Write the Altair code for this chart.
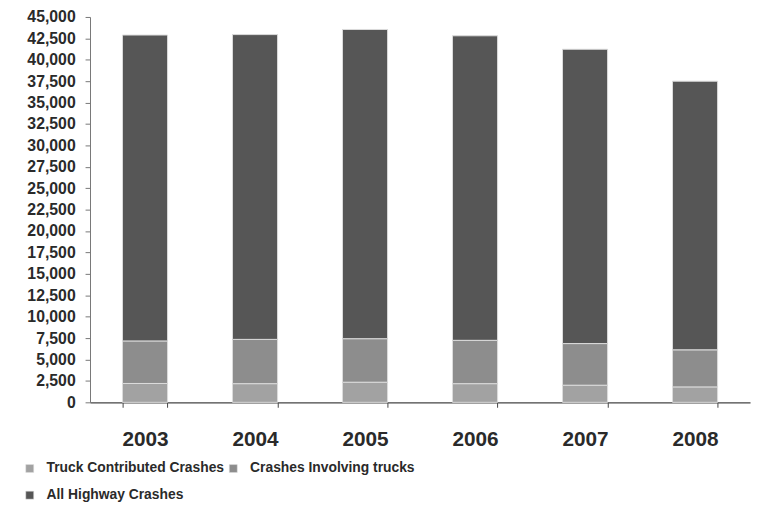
import altair as alt
import pandas as pd

years = ["2003", "2004", "2005", "2006", "2007", "2008"]
series = ["Truck Contributed Crashes", "Crashes Involving trucks", "All Highway Crashes"]
truck_contributed = [2200, 2180, 2350, 2180, 2000, 1800]
involving_trucks = [4970, 5170, 5080, 5060, 4860, 4330]
all_highway = [35720, 35590, 36110, 35560, 34370, 31370]
colors = ["#a2a2a2", "#8d8d8d", "#565656"]

rows = []
for i, y in enumerate(years):
    for k, (name, vals) in enumerate(zip(series, [truck_contributed, involving_trucks, all_highway])):
        rows.append({"year": y, "series": name, "value": vals[i], "order": k})
df = pd.DataFrame(rows)

font = "Liberation Sans"

chart = alt.Chart(df).mark_bar(stroke="#dcdcdc", strokeWidth=1).encode(
    x=alt.X("year:N", sort=years,
            scale=alt.Scale(paddingInner=0.59, paddingOuter=0.295),
            axis=alt.Axis(title=None, labelAngle=0, labelFont=font, labelFontSize=21,
                          labelFontWeight="bold",
                          labelColor="#2a2a2a", labelPadding=22, tickBand="extent",
                          tickSize=5, tickColor="#444444", domainColor="#444444",
                          domainWidth=1.2)),
    y=alt.Y("value:Q", stack="zero",
            scale=alt.Scale(domain=[0, 45000], nice=False),
            axis=alt.Axis(title=None, values=list(range(0, 45001, 2500)), format=",.0f",
                          labelFont=font, labelFontSize=16, labelFontWeight="bold",
                          labelColor="#2a2a2a",
                          labelPadding=10, tickSize=5, tickColor="#777777",
                          domainColor="#777777", grid=False)),
    color=alt.Color("series:N", sort=series,
                    scale=alt.Scale(domain=series, range=colors),
                    legend=alt.Legend(title=None, orient="none", legendX=-68, legendY=450,
                                      direction="horizontal", columns=2,
                                      symbolType="square", symbolSize=64,
                                      symbolStrokeColor="#dcdcdc", symbolStrokeWidth=0.5,
                                      labelFont=font, labelFontSize=14, labelFontWeight="bold",
                                      labelColor="#2a2a2a", labelLimit=400,
                                      labelOffset=10, rowPadding=13, columnPadding=2)),
    order=alt.Order("order:Q", sort="ascending"),
).properties(
    width=668, height=390,
    background="white",
    autosize=alt.AutoSizeParams(type="none"),
    padding={"left": 83, "top": 6, "right": 4, "bottom": 114},
).configure_view(stroke=None)

chart.save("out.html", embed_options={"renderer": "svg", "actions": False})
